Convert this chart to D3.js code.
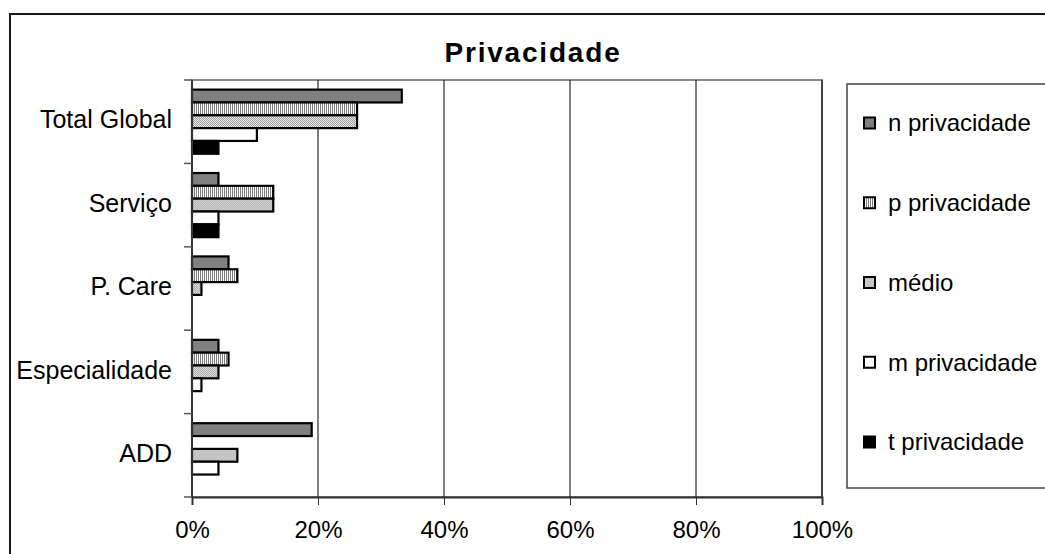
<!DOCTYPE html>
<html>
<head>
<meta charset="utf-8">
<script src="https://cdn.jsdelivr.net/npm/d3@7"></script>
<style>
  html, body { margin: 0; padding: 0; background: #fff; }
  svg { display: block; font-family: "Liberation Sans", Arial, sans-serif; }
</style>
</head>
<body>
<svg id="chart" width="1045" height="554"></svg>
<script>
// Categories, top to bottom
const categories = ["Total Global", "Serviço", "P. Care", "Especialidade", "ADD"];
// Series names (legend order)
const seriesNames = ["n privacidade", "p privacidade", "médio", "m privacidade", "t privacidade"];
// Series values, percent, one per category
const nPriv = [33.3, 4.2, 5.8, 4.2, 19.0];
const pPriv = [26.2, 12.9, 7.2, 5.8, 0];
const medio = [26.2, 12.9, 1.5, 4.2, 7.2];
const mPriv = [10.3, 4.2, 0, 1.5, 4.2];
const tPriv = [4.2, 4.2, 0, 0, 0];
const xTicks = [0, 20, 40, 60, 80, 100];
const title = "Privacidade";

const seriesValues = [nPriv, pPriv, medio, mPriv, tPriv];

const svg = d3.select("#chart");
const defs = svg.append("defs");

// Fill patterns
const pv = defs.append("pattern").attr("id", "vstripe").attr("patternUnits", "userSpaceOnUse")
  .attr("width", 2).attr("height", 2);
pv.append("rect").attr("width", 2).attr("height", 2).attr("fill", "#fff");
pv.append("rect").attr("width", 1).attr("height", 2).attr("fill", "#7a7a7a");

const pd = defs.append("pattern").attr("id", "dots").attr("patternUnits", "userSpaceOnUse")
  .attr("width", 2).attr("height", 2);
pd.append("rect").attr("width", 2).attr("height", 2).attr("fill", "#e8e8e8");
pd.append("rect").attr("width", 1).attr("height", 1).attr("fill", "#a0a0a0");
pd.append("rect").attr("x", 1).attr("y", 1).attr("width", 1).attr("height", 1).attr("fill", "#a0a0a0");

const fills = ["#808080", "url(#vstripe)", "url(#dots)", "#ffffff", "#000000"];

// Outer chart frame
svg.append("rect").attr("x", 10).attr("y", 14).attr("width", 1100).attr("height", 600)
  .attr("fill", "none").attr("stroke", "#1a1a1a").attr("stroke-width", 2);

// Plot geometry
const plot = { left: 192, right: 822, top: 80, bottom: 497 };

const x = d3.scaleLinear().domain([0, 100]).range([plot.left, plot.right]);
const y = d3.scaleBand().domain(categories).range([plot.top, plot.bottom])
  .paddingInner(0).paddingOuter(0);
const barCount = seriesNames.length;
const barH = y.bandwidth() / (barCount + 1.5);
const y1 = d3.scaleBand().domain(d3.range(barCount))
  .range([0.75 * barH, 0.75 * barH + barCount * barH]);

// Plot area border (gray)
svg.append("rect").attr("x", plot.left).attr("y", plot.top)
  .attr("width", plot.right - plot.left).attr("height", plot.bottom - plot.top)
  .attr("fill", "none").attr("stroke", "#8a8a8a").attr("stroke-width", 2);

// Vertical gridlines
svg.append("g").selectAll("line").data(xTicks.slice(1)).join("line")
  .attr("x1", d => x(d)).attr("x2", d => x(d))
  .attr("y1", plot.top).attr("y2", plot.bottom)
  .attr("stroke", "#000").attr("stroke-width", 1);

// Bars
const groups = svg.append("g").selectAll("g").data(categories).join("g")
  .attr("transform", d => `translate(0,${y(d)})`);
groups.selectAll("rect")
  .data((c, ci) => seriesValues.map((vals, si) => ({ si, v: vals[ci] })).filter(d => d.v > 0))
  .join("rect")
  .attr("x", x(0))
  .attr("y", d => y1(d.si))
  .attr("width", d => x(d.v) - x(0))
  .attr("height", y1.bandwidth())
  .attr("fill", d => fills[d.si])
  .attr("stroke", "#000").attr("stroke-width", 2.2);

// Value axis (bottom)
const xAxis = d3.axisBottom(x).tickValues(xTicks).tickFormat(d => d + "%")
  .tickSize(8).tickPadding(16);
const gx = svg.append("g").attr("transform", `translate(0,${plot.bottom})`).call(xAxis);
gx.select(".domain").attr("stroke", "#333").attr("stroke-width", 2);
gx.selectAll(".tick line").attr("stroke", "#333").attr("stroke-width", 1);
gx.selectAll(".tick text").attr("font-size", 24).attr("fill", "#000")
  .attr("font-family", "Liberation Sans, Arial, sans-serif");

// Category axis (left) with ticks at band boundaries
const gy = svg.append("g");
gy.append("line").attr("x1", plot.left).attr("x2", plot.left)
  .attr("y1", plot.top).attr("y2", plot.bottom + 1)
  .attr("stroke", "#333").attr("stroke-width", 2);
const boundaries = categories.map(c => y(c)).concat([plot.bottom]);
gy.selectAll("line.tk").data(boundaries).join("line").attr("class", "tk")
  .attr("x1", plot.left - 8).attr("x2", plot.left)
  .attr("y1", d => d).attr("y2", d => d)
  .attr("stroke", "#555").attr("stroke-width", 1.5);
gy.selectAll("text").data(categories).join("text")
  .attr("x", plot.left - 20)
  .attr("y", d => y(d) + y.bandwidth() / 2 - 2)
  .attr("dy", "0.35em")
  .attr("text-anchor", "end")
  .attr("font-size", 25)
  .text(d => d);

// Title
svg.append("text").attr("x", 533).attr("y", 62).attr("text-anchor", "middle")
  .attr("font-size", 28).attr("font-weight", "bold").attr("letter-spacing", 1.8)
  .text(title);

// Legend
const lg = svg.append("g");
const lgBox = { left: 847, top: 84, bottom: 488 };
lg.append("rect").attr("x", lgBox.left).attr("y", lgBox.top)
  .attr("width", 300).attr("height", lgBox.bottom - lgBox.top)
  .attr("fill", "#fff").attr("stroke", "#444").attr("stroke-width", 1.5);
const ly = d3.scalePoint().domain(seriesNames).range([123, 442]);
const items = lg.selectAll("g").data(seriesNames).join("g")
  .attr("transform", d => `translate(0,${ly(d)})`);
items.append("rect").attr("x", 864).attr("y", -5.5).attr("width", 11).attr("height", 11)
  .attr("fill", (d, i) => fills[i]).attr("stroke", "#000").attr("stroke-width", 2);
items.append("text").attr("x", 888).attr("dy", "0.35em").attr("font-size", 24).text(d => d);
</script>
</body>
</html>
